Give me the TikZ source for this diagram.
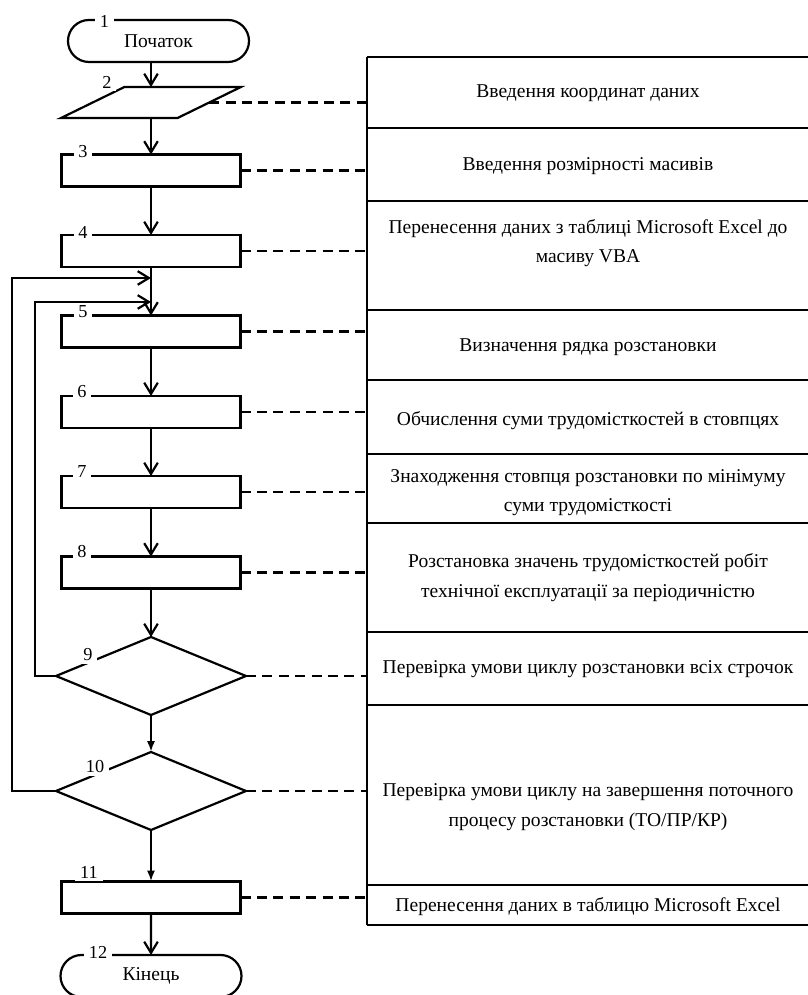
\documentclass[tikz,border=0pt]{standalone}
\usepackage{fontspec}
\setmainfont{Liberation Serif}
\usetikzlibrary{shapes.geometric,shapes.misc,arrows.meta}

\begin{document}
\begin{tikzpicture}[x=0.25mm,y=0.25mm,
    line width=0.55mm, line cap=butt, line join=miter,
    every node/.style={inner sep=0pt,outer sep=0pt},
    txt/.style={font=\fontsize{13.9}{21}\selectfont,align=center},
    num/.style={font=\fontsize{13}{15}\selectfont,fill=white,inner xsep=1.2mm,inner ysep=0.8mm},
    blk/.style={draw,rectangle,minimum width=44.75mm,minimum height=8mm},
    term/.style={draw,rounded rectangle,minimum width=45.25mm,minimum height=10.5mm,font=\fontsize{13.9}{16}\selectfont},
    io/.style={draw,trapezium,trapezium left angle=40,trapezium right angle=140,inner sep=1mm,
               trapezium stretches=true,minimum width=45mm,minimum height=7.75mm},
    cond/.style={draw,diamond,aspect=2.44,minimum width=47.5mm,minimum height=19.5mm},
    barb/.style={-{Straight Barb[length=2.8mm,width=3.4mm]}},
    tri/.style={-{Latex[length=2.7mm,width=2mm]}},
    dsh/.style={line width=0.6mm,dash pattern=on 2.5mm off 1.6mm}]
  \useasboundingbox (0,0) rectangle (807,995);
  % ---- блоки схеми ----
  \node[term] (t1)  at (158.5,954) {Початок};
  \node[io]   (p2)  at (151,892.5) {};
  \node[blk]  (b3)  at (151,824.5) {};
  \node[blk]  (b4)  at (151,744)   {};
  \node[blk]  (b5)  at (151,663.5) {};
  \node[blk]  (b6)  at (151,583)   {};
  \node[blk]  (b7)  at (151,503)   {};
  \node[blk]  (b8)  at (151,422.5) {};
  \node[cond] (d9)  at (151,319)   {};
  \node[cond] (d10) at (151,204)   {};
  \node[blk]  (b11) at (151,97.5)  {};
  \node[term] (t12) at (151,19)    {Кінець};
  % ---- точки входу циклів ----
  \coordinate (j10) at (151,717);
  \coordinate (j9)  at (151,693);
  \coordinate (k10) at (12,717);
  \coordinate (k9)  at (35,693);
  \coordinate (tl)  at (367,0);
  % ---- з'єднання ----
  \draw[barb] (t1.south -| p2.north) -- (p2.north);
  \draw[barb] (p2) -- (b3);
  \draw[barb] (b3) -- (b4);
  \draw[barb] (b4) -- (b5);
  \draw[barb] (b5) -- (b6);
  \draw[barb] (b6) -- (b7);
  \draw[barb] (b7) -- (b8);
  \draw[barb] (b8) -- (d9.north);
  \draw[tri]  (d9.south) -- (d10.north);
  \draw[tri]  (d10.south) -- (b11);
  \draw[barb] (b11) -- (t12);
  \draw[barb] (d9.west) -| (k9) -- (j9);
  \draw[barb] (d10.west) -| (k10) -- (j10);
  % ---- таблиця пояснень ----
  \draw (367,938)--(367,70)
        (367,938)--(810,938) (367,867)--(810,867) (367,794)--(810,794)
        (367,685)--(810,685) (367,615)--(810,615) (367,541)--(810,541)
        (367,472)--(810,472) (367,363)--(810,363) (367,290)--(810,290)
        (367,110)--(810,110) (367,70)--(810,70);
  \node[txt] (r1)  at (588,902)   {Введення координат даних};
  \node[txt] (r2)  at (588,829)   {Введення розмірності масивів};
  \node[txt] (r3)  at (588,752)   {Перенесення даних з таблиці Microsoft Excel до\\масиву VBA};
  \node[txt] (r4)  at (588,648)   {Визначення рядка розстановки};
  \node[txt] (r5)  at (588,574)   {Обчислення суми трудомісткостей в стовпцях};
  \node[txt] (r6)  at (588,502.5) {Знаходження стовпця розстановки по мінімуму\\суми трудомісткості};
  \node[txt] (r7)  at (588,417.5) {Розстановка значень трудомісткостей робіт\\технічної експлуатації за періодичністю};
  \node[txt] (r8)  at (588,326)   {Перевірка умови циклу розстановки всіх строчок};
  \node[txt] (r9)  at (588,188)   {Перевірка умови циклу на завершення поточного\\процесу розстановки (ТО/ПР/КР)};
  \node[txt] (r10) at (588,88)    {Перенесення даних в таблицю Microsoft Excel};
  % ---- штрихові виноски до таблиці ----
  \draw[dsh] (p2.east)  -- (p2.east -| tl);
  \draw[dsh] (b3.east)  -- (b3.east -| tl);
  \draw[dsh] (b4.east)  -- (b4.east -| tl);
  \draw[dsh] (b5.east)  -- (b5.east -| tl);
  \draw[dsh] (b6.east)  -- (b6.east -| tl);
  \draw[dsh] (b7.east)  -- (b7.east -| tl);
  \draw[dsh] (b8.east)  -- (b8.east -| tl);
  \draw[dsh] (d9.east)  -- (d9.east -| tl);
  \draw[dsh] (d10.east) -- (d10.east -| tl);
  \draw[dsh] (b11.east) -- (b11.east -| tl);
  % ---- номери блоків (розрив верхньої лінії) ----
  \node[num] (n1)  at (104.5,974) {1};
  \node[num] (n2)  at (107,913)   {2};
  \node[num] (n3)  at (83,843)    {3};
  \node[num] (n4)  at (83,763)    {4};
  \node[num] (n5)  at (83,683)    {5};
  \node[num] (n6)  at (82,603)    {6};
  \node[num] (n7)  at (82,523)    {7};
  \node[num] (n8)  at (82,443)    {8};
  \node[num] (n9)  at (88,340)    {9};
  \node[num] (n10) at (95,228)    {10};
  \node[num] (n11) at (89,123)    {11};
  \node[num] (n12) at (98,43)     {12};
\end{tikzpicture}
\end{document}
